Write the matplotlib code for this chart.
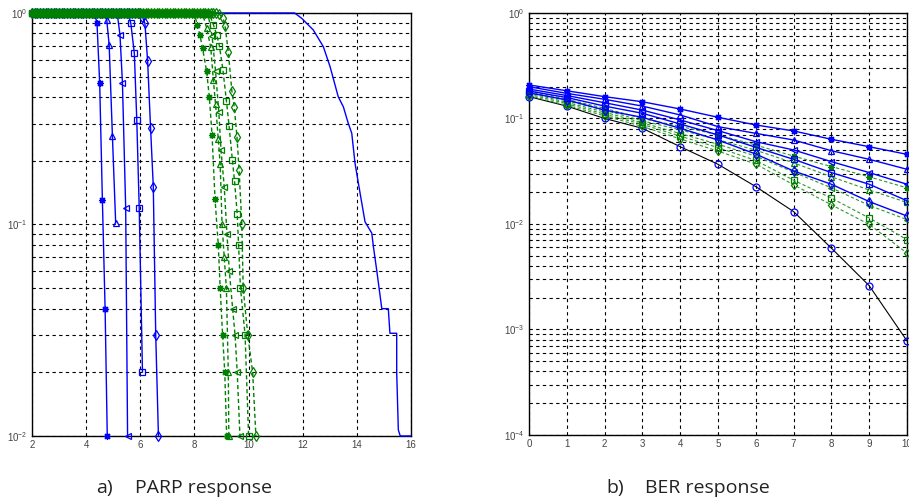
import matplotlib
matplotlib.use('Agg')
import matplotlib.pyplot as plt
import numpy as np
from matplotlib.ticker import LogLocator, NullFormatter, LogFormatterSciNotation

# ---------- a) PAPR CCDF ----------
# blue solid curves (drop region only, CCDF is 1.0 before the first point)
blue_star_x = [4.4, 4.5, 4.6, 4.7, 4.78]
blue_star_y = [0.90, 0.465, 0.13, 0.04, 0.01]
blue_tri_x = [4.66, 4.76, 4.85, 4.97, 5.09]
blue_tri_y = [0.99, 0.93, 0.706, 0.262, 0.102]
blue_ltri_x = [5.15, 5.25, 5.34, 5.46, 5.53]
blue_ltri_y = [0.99, 0.787, 0.469, 0.12, 0.01]
blue_sq_x = [5.55, 5.65, 5.78, 5.87, 5.96, 6.08]
blue_sq_y = [0.99, 0.894, 0.644, 0.312, 0.12, 0.0201]
blue_dia_x = [6.08, 6.17, 6.27, 6.38, 6.48, 6.57, 6.67]
blue_dia_y = [0.96, 0.894, 0.595, 0.285, 0.151, 0.030, 0.01]

# green dashed curves
green_star_x = [8.0, 8.1, 8.2, 8.3, 8.45, 8.55, 8.65, 8.76, 8.88, 8.95, 9.04, 9.12, 9.19]
green_star_y = [0.99, 0.88, 0.79, 0.68, 0.53, 0.40, 0.265, 0.132, 0.08, 0.05, 0.03, 0.02, 0.01]
green_tri_x = [8.3, 8.45, 8.6, 8.7, 8.78, 8.88, 8.95, 9.02, 9.1, 9.18, 9.25, 9.27]
green_tri_y = [0.99, 0.85, 0.69, 0.48, 0.37, 0.253, 0.193, 0.1, 0.07, 0.05, 0.02, 0.01]
green_ltri_x = [8.5, 8.65, 8.78, 8.9, 8.98, 9.1, 9.2, 9.29, 9.41, 9.5, 9.58, 9.68]
green_ltri_y = [0.99, 0.78, 0.53, 0.34, 0.225, 0.151, 0.09, 0.06, 0.04, 0.03, 0.02, 0.01]
green_sq_x = [8.55, 8.7, 8.82, 8.92, 9.05, 9.18, 9.28, 9.4, 9.48, 9.58, 9.63, 9.7, 9.87, 10.0]
green_sq_y = [0.99, 0.88, 0.79, 0.70, 0.54, 0.385, 0.292, 0.202, 0.161, 0.112, 0.08, 0.05, 0.03, 0.01]
green_dia_x = [8.9, 9.05, 9.13, 9.25, 9.38, 9.47, 9.57, 9.65, 9.75, 9.8, 9.97, 10.15, 10.27]
green_dia_y = [0.99, 0.95, 0.87, 0.656, 0.43, 0.36, 0.26, 0.18, 0.10, 0.05, 0.03, 0.02, 0.01]

# original OFDM, no markers
orig_x = [2, 11.0, 11.7, 11.96, 12.39, 12.76, 13.01, 13.31, 13.5, 13.68, 13.81, 13.93,
          14.12, 14.3, 14.55, 14.61, 14.73, 14.92, 15.16, 15.22, 15.47, 15.47, 15.53, 15.6, 16]
orig_y = [1, 1, 1, 0.944, 0.831, 0.693, 0.557, 0.402, 0.36, 0.301, 0.27, 0.195,
          0.14, 0.103, 0.091, 0.0785, 0.061, 0.04, 0.04, 0.0306, 0.0306, 0.02, 0.0107, 0.01, 0.01]

# ---------- b) BER ----------
snr = [0, 1, 2, 3, 4, 5, 6, 7, 8, 9, 10]
ber_theory = [0.161, 0.131, 0.100, 0.0807, 0.054, 0.0368, 0.0226, 0.0131, 0.0059, 0.0026, 0.00078]
ber_blue_star = [0.208, 0.183, 0.161, 0.144, 0.123, 0.1026, 0.0868, 0.0762, 0.0635, 0.054, 0.0457]
ber_blue_tri = [0.200, 0.173, 0.152, 0.131, 0.108, 0.0837, 0.0723, 0.0625, 0.0495, 0.041, 0.033]
ber_blue_ltri = [0.190, 0.165, 0.141, 0.120, 0.0968, 0.0767, 0.0603, 0.0503, 0.039, 0.0307, 0.0238]
ber_blue_sq = [0.182, 0.158, 0.131, 0.112, 0.0887, 0.0698, 0.0533, 0.041, 0.0307, 0.0238, 0.0166]
ber_blue_dia = [0.175, 0.150, 0.120, 0.1025, 0.0807, 0.0625, 0.046, 0.0318, 0.0238, 0.0163, 0.0119]
ber_green_star = [0.185, 0.152, 0.125, 0.100, 0.084, 0.070, 0.056, 0.044, 0.035, 0.028, 0.022]
ber_green_tri = [0.180, 0.147, 0.120, 0.095, 0.078, 0.063, 0.050, 0.038, 0.028, 0.021, 0.016]
ber_green_ltri = [0.175, 0.142, 0.115, 0.091, 0.072, 0.057, 0.044, 0.031, 0.022, 0.015, 0.011]
ber_green_sq = [0.170, 0.138, 0.110, 0.088, 0.068, 0.053, 0.040, 0.026, 0.0176, 0.0114, 0.0071]
ber_green_dia = [0.165, 0.133, 0.106, 0.084, 0.064, 0.049, 0.037, 0.0235, 0.0152, 0.0099, 0.0053]

BLUE = '#0000ff'
GREEN = '#008000'
STAR = (8, 2, 0)


def with_flat(xs, ys):
    # CCDF stays at 1 on the 0.1 dB threshold grid before the drop
    flat_x = list(np.round(np.arange(2.0, xs[0] - 0.05, 0.1), 2))
    return flat_x + list(xs), [1.0] * len(flat_x) + list(ys)


def style_log_axes(ax, xlim, ylim, xticks):
    ax.set_yscale('log')
    ax.set_xlim(*xlim)
    ax.set_ylim(*ylim)
    ax.set_xticks(xticks)
    ax.yaxis.set_major_locator(LogLocator(base=10))
    ax.yaxis.set_minor_locator(LogLocator(base=10, subs=np.arange(2, 10)))
    ax.yaxis.set_major_formatter(LogFormatterSciNotation())
    ax.yaxis.set_minor_formatter(NullFormatter())
    ax.grid(True, which='major', axis='both', color='black', linestyle=(0, (3, 3)), linewidth=0.8)
    ax.grid(True, which='minor', axis='y', color='black', linestyle=(0, (3, 3)), linewidth=0.8)
    ax.tick_params(which='both', direction='in', length=0, labelsize=7, labelcolor='#444444', pad=3)
    for s in ax.spines.values():
        s.set_color('black')
        s.set_linewidth(1.0)
    ax.set_axisbelow(True)


plt.rcParams['font.family'] = ['Liberation Sans', 'DejaVu Sans']
plt.rcParams['mathtext.default'] = 'regular'

fig = plt.figure(figsize=(9.09, 5.03), dpi=100)
ax1 = fig.add_axes([0.0352, 0.1332, 0.417, 0.841])
ax2 = fig.add_axes([0.582, 0.1352, 0.4158, 0.839])

# left panel
ax1.plot(orig_x, orig_y, color=BLUE, lw=1.0, clip_on=False, zorder=3)
blue_sets = [(blue_star_x, blue_star_y, STAR), (blue_tri_x, blue_tri_y, '^'),
             (blue_ltri_x, blue_ltri_y, '<'), (blue_sq_x, blue_sq_y, 's'),
             (blue_dia_x, blue_dia_y, 'd')]
for xs, ys, m in blue_sets:
    fx, fy = with_flat(xs, ys)
    ax1.plot(fx, fy, color=BLUE, lw=1.0, marker=m, ms=5, mfc='none', mew=0.9,
             clip_on=False, zorder=3)
green_sets = [(green_star_x, green_star_y, STAR), (green_tri_x, green_tri_y, '^'),
              (green_ltri_x, green_ltri_y, '<'), (green_sq_x, green_sq_y, 's'),
              (green_dia_x, green_dia_y, 'd')]
for xs, ys, m in green_sets:
    fx, fy = with_flat(xs, ys)
    ax1.plot(fx, fy, color=GREEN, lw=1.0, ls=(0, (3, 2)), marker=m, ms=5, mfc='none',
             mew=0.9, clip_on=False, zorder=4)
style_log_axes(ax1, (2, 16), (1e-2, 1), np.arange(2, 17, 2))

# right panel
ax2.plot(snr, ber_theory, color='black', lw=0.8, marker='o', ms=5, mfc='none',
         mec=BLUE, mew=0.9, clip_on=False, zorder=3)
for ys, m in [(ber_green_star, STAR), (ber_green_tri, '^'), (ber_green_ltri, '<'),
              (ber_green_sq, 's'), (ber_green_dia, 'd')]:
    ax2.plot(snr, ys, color='#2a9a2a', lw=0.8, ls=(0, (3, 2)), marker=m, ms=4.5, mfc='none',
             mec=GREEN, mew=0.9, clip_on=False, zorder=3)
for ys, m in [(ber_blue_star, STAR), (ber_blue_tri, '^'), (ber_blue_ltri, '<'),
              (ber_blue_sq, 's'), (ber_blue_dia, 'd')]:
    ax2.plot(snr, ys, color=BLUE, lw=1.0, marker=m, ms=5, mfc='none', mew=0.9,
             clip_on=False, zorder=4)
style_log_axes(ax2, (0, 10), (1e-4, 1), np.arange(0, 11, 1))

# captions
cap = dict(fontsize=14, family=['Open Sans', 'DejaVu Sans'], color='#222222', va='center')
fig.text(96 / 909, 1 - 488 / 503, 'a)', **cap)
fig.text(135 / 909, 1 - 488 / 503, 'PARP response', **cap)
fig.text(606 / 909, 1 - 488 / 503, 'b)', **cap)
fig.text(645 / 909, 1 - 488 / 503, 'BER response', **cap)

fig.savefig('out.png', dpi=100)
